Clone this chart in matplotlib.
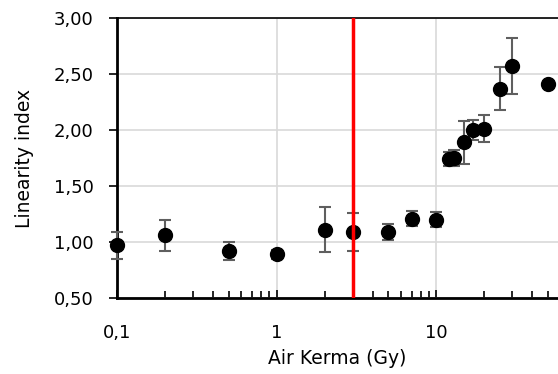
import matplotlib
matplotlib.use('Agg')
import matplotlib.pyplot as plt
from matplotlib.ticker import FuncFormatter, LogLocator, MultipleLocator

# values
kerma = [0.1, 0.2, 0.5, 1, 2, 3, 5, 7, 10, 12, 13, 15, 17, 20, 25, 30, 50]
linearity = [0.97, 1.06, 0.92, 0.89, 1.11, 1.09, 1.09, 1.21, 1.20,
             1.74, 1.75, 1.89, 2.00, 2.01, 2.37, 2.57, 2.41]
err = [0.12, 0.14, 0.08, 0.04, 0.20, 0.17, 0.07, 0.07, 0.07,
       0.06, 0.07, 0.19, 0.09, 0.12, 0.19, 0.25, 0.0]
threshold = 3

fig = plt.figure(figsize=(5.58, 3.74), dpi=100)
ax = fig.add_axes([0.21, 0.203, 0.79, 0.749])

ax.errorbar(kerma, linearity, yerr=err, fmt='o', color='black', markersize=10,
            ecolor='#5f5f5f', elinewidth=1.5, capsize=4, capthick=1.5,
            zorder=3, clip_on=False)
ax.axvline(threshold, color='red', linewidth=2.5, zorder=4)

ax.set_xscale('log')
ax.set_xlim(0.1, 58)
ax.set_ylim(0.5, 3.0)
ax.yaxis.set_major_locator(MultipleLocator(0.5))
ax.xaxis.set_major_locator(LogLocator(base=10))
ax.xaxis.set_minor_locator(LogLocator(base=10, subs=range(2, 10)))

ax.grid(True, which='major', color='#d9d9d9', linewidth=1.2, zorder=0)
ax.set_axisbelow(True)

ax.spines['right'].set_visible(False)
ax.spines['top'].set_linewidth(1.2)
ax.spines['left'].set_linewidth(2)
ax.spines['bottom'].set_linewidth(2)

ax.tick_params(axis='x', which='both', direction='in', labelsize=13, pad=19)
ax.tick_params(axis='x', which='major', length=6, width=1.2)
ax.tick_params(axis='x', which='minor', length=5, width=1.2)
ax.tick_params(axis='y', direction='out', length=6, width=1.2, labelsize=13, pad=11)

comma = FuncFormatter(lambda v, _: '{:.16g}'.format(v).replace('.', ','))
ax.xaxis.set_major_formatter(comma)
ax.yaxis.set_major_formatter(FuncFormatter(lambda v, _: '{:.2f}'.format(v).replace('.', ',')))

ax.set_xlabel('Air Kerma (Gy)', fontsize=13.5, labelpad=5)
ax.set_ylabel('Linearity index', fontsize=13.5, labelpad=14)

fig.savefig('out.png', dpi=100)
